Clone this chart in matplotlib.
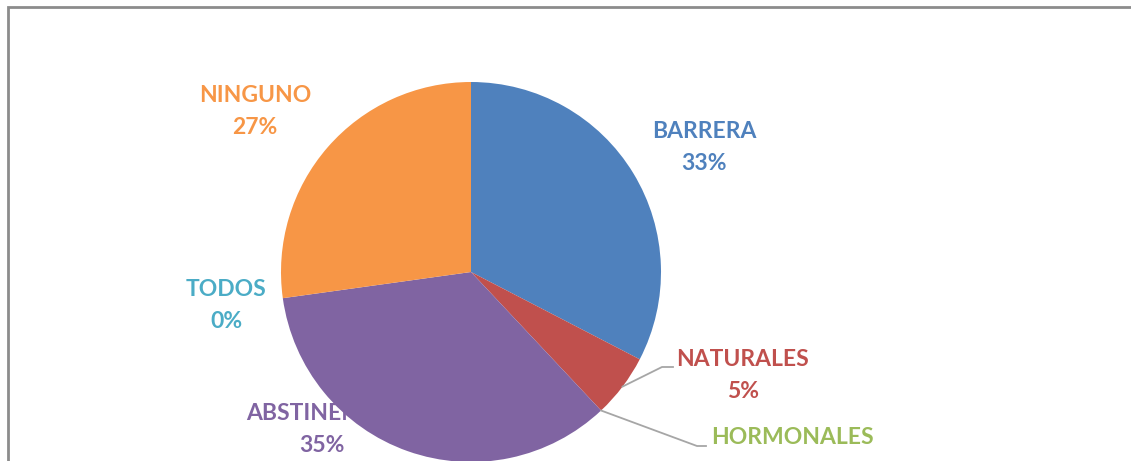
import matplotlib
matplotlib.use("Agg")
import matplotlib.pyplot as plt
import numpy as np

categories = ["BARRERA", "NATURALES", "HORMONALES", "ABSTINENCIA", "TODOS", "NINGUNO"]
values = [32.6, 5.4, 0.0, 34.8, 0.0, 27.2]
pct_labels = ["33%", "5%", "0%", "35%", "0%", "27%"]
colors = ["#4F81BD", "#C0504D", "#9BBB59", "#8064A2", "#4BACC6", "#F79646"]

W, H = 1131, 461
fig = plt.figure(figsize=(W / 100, H / 100), dpi=100)
ax = fig.add_axes([0, 0, 1, 1])

cx, cy, R = 471, H - 272, 190
wedges, _ = ax.pie(values, colors=colors, startangle=90, counterclock=False,
                   center=(cx, cy), radius=R, frame=True,
                   wedgeprops=dict(linewidth=0, zorder=3))
ax.set_xlim(0, W)
ax.set_ylim(0, H)
ax.set_aspect("equal")
ax.axis("off")

font = dict(family=["Lato", "DejaVu Sans"], fontweight="bold", fontsize=16.5)
# label positions (pixel coordinates, y from top)
label_pos = {
    "BARRERA": (704, 132),
    "NATURALES": (743, 359),
    "HORMONALES": (792, 438),
    "ABSTINENCIA": (322, 413),
    "TODOS": (226, 290),
    "NINGUNO": (255, 96),
}
for cat, pct, col in zip(categories, pct_labels, colors):
    x, y = label_pos[cat]
    ax.text(x, H - y, cat, color=col, ha="center", va="center", zorder=1, **font)
    if y + 32 < H - 10:  # percentage below the visible area is clipped in the reference
        ax.text(x, H - y - 32, pct, color=col, ha="center", va="center", zorder=1, **font)

# leader lines
def edge_point(w, frac):
    ang = np.deg2rad(w.theta1 + (w.theta2 - w.theta1) * frac)
    return cx + R * np.cos(ang), cy + R * np.sin(ang)

lc = "#A6A6A6"
p = edge_point(wedges[1], 0.5)
ax.plot([p[0], 662, 673], [p[1], H - 367, H - 367], color=lc, lw=1.3, zorder=4)
p = edge_point(wedges[2], 0.5)
ax.plot([p[0], 697, 706], [p[1], H - 446, H - 446], color=lc, lw=1.3, zorder=4)

# chart border (partially visible)
ax.plot([7.5, 7.5, W], [0, H - 7.5, H - 7.5], color="#8C8C8C", lw=2, zorder=5,
        solid_joinstyle="miter")

fig.savefig("out.png", dpi=100)
